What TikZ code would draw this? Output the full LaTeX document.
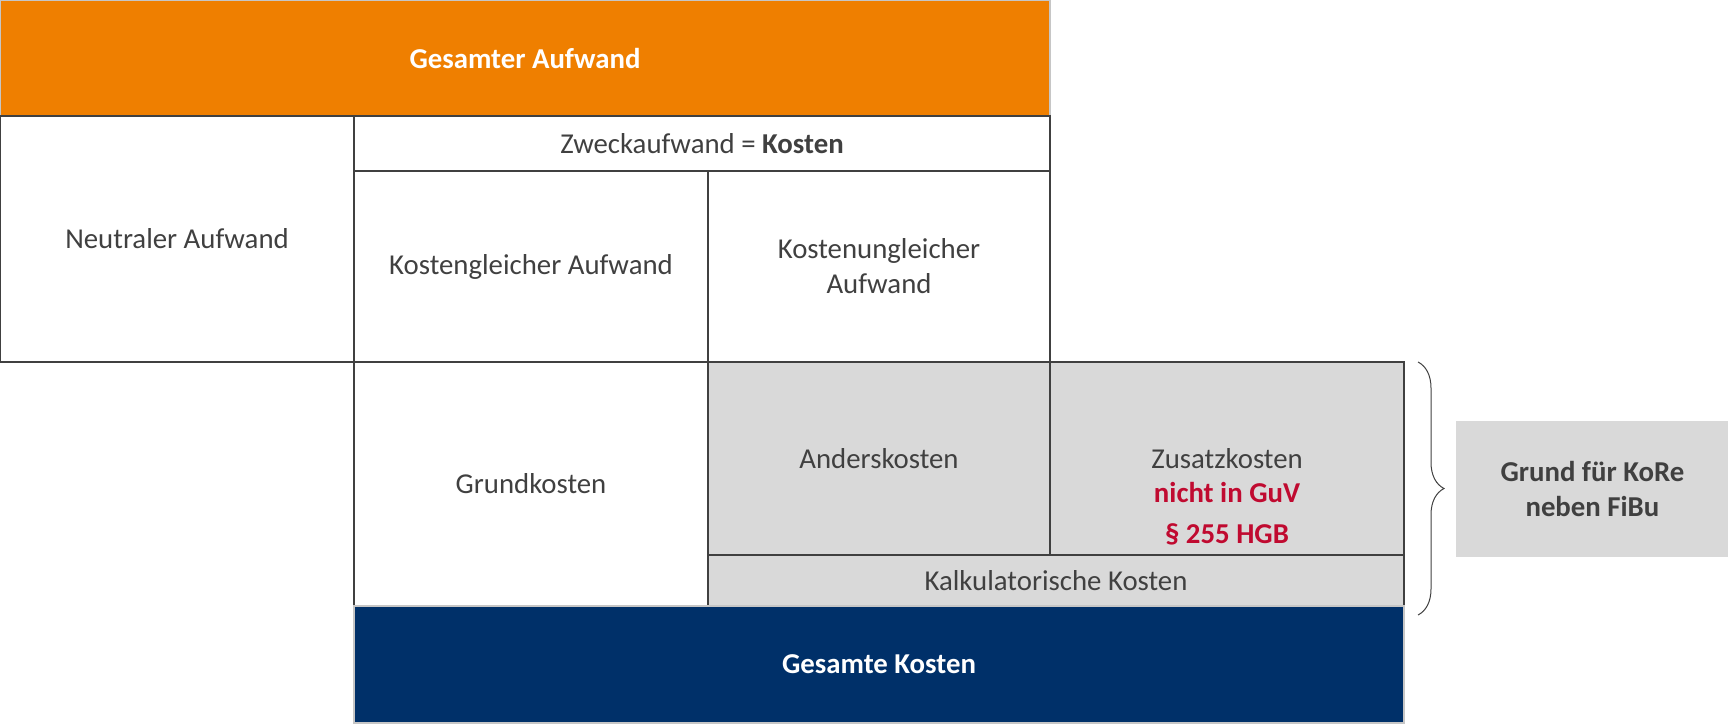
\documentclass[tikz,border=0pt]{standalone}
\usepackage{fontspec}
\setmainfont{Carlito}
\usetikzlibrary{positioning,decorations.pathreplacing}

\definecolor{aufwandorange}{RGB}{239,127,0}
\definecolor{kostenblue}{RGB}{0,48,105}
\definecolor{cellgray}{RGB}{217,217,217}
\definecolor{textgray}{RGB}{64,64,64}
\definecolor{hgbred}{RGB}{192,10,48}

\tikzset{
  cell/.style={rectangle, draw=textgray, line width=1.4pt, text=textgray, inner sep=0pt, outer sep=0pt,
    font=\fontsize{14.4}{17.5}\selectfont, align=center},
  shaded/.style={cell, fill=cellgray},
  bar/.style={rectangle, draw=gray!45, line width=0.6pt, text=white, inner sep=0pt, outer sep=0pt,
    font=\fontsize{14.4}{17.5}\selectfont\bfseries, minimum width=525pt},
}

\begin{document}
\begin{tikzpicture}[x=0.5pt, y=-0.5pt]
      \useasboundingbox (0,0) rectangle (1728,724);
      %\draw[help lines] (0,0) grid (1728,724);

      \node [bar, fill=aufwandorange, minimum height=58pt, anchor=north west] (aufwand) at (0,0) {Gesamter Aufwand};

      \node [cell, minimum width=177pt, minimum height=123pt, below right=0pt and 0pt of aufwand.south west] (neutral) {Neutraler Aufwand};
      \node [cell, minimum width=348pt, minimum height=27.5pt, below left=0pt and 0pt of aufwand.south east] (zweck) {Zweckaufwand = \textbf{Kosten}};
      \node [cell, minimum width=177pt, minimum height=95.5pt, below right=0pt and 0pt of zweck.south west] (gleich) {Kostengleicher Aufwand};
      \node [cell, minimum width=171pt, minimum height=95.5pt, below left=0pt and 0pt of zweck.south east] (ungleich) {Kostenungleicher\\Aufwand};

      \node [cell, minimum width=177pt, minimum height=122pt, below right=0pt and 0pt of gleich.south west] (grund) {Grundkosten};
      \node [shaded, minimum width=171pt, minimum height=96.5pt, below right=0pt and 0pt of ungleich.south west] (anders) {Anderskosten};
      \node [shaded, minimum width=177pt, minimum height=96.5pt, below right=0pt and 0pt of ungleich.south east] (zusatz) {};
      \node [shaded, minimum width=348pt, minimum height=25.5pt, below right=0pt and 0pt of anders.south west] (kalk) {Kalkulatorische Kosten};

      \node [cell, draw=none] (zusatzlabel) at (anders.center -| zusatz.center) {Zusatzkosten};
      \node [cell, draw=none, text=hgbred, font=\fontsize{14.4}{17.5}\selectfont\bfseries, below=7pt of zusatzlabel] (hgb) {nicht in GuV\\[3pt]\S\ 255 HGB};

      \node [bar, fill=kostenblue, minimum height=58.5pt, below right=0pt and 0pt of grund.south west] (kosten) {Gesamte Kosten};

      \draw [decorate, decoration={brace, amplitude=13pt}, draw=textgray, line width=0.5pt]
        ([xshift=7pt]zusatz.north east) -- ([xshift=7pt, yshift=-4.5pt]kalk.south east) coordinate (bracebottom);

      \node [rectangle, fill=cellgray, text=textgray, inner sep=0pt, minimum width=136pt, minimum height=68pt,
        font=\fontsize{14.4}{17.5}\selectfont\bfseries, align=center, anchor=north west] (reason) at (1456,421) {Grund für KoRe\\neben FiBu};

\end{tikzpicture}
\end{document}
